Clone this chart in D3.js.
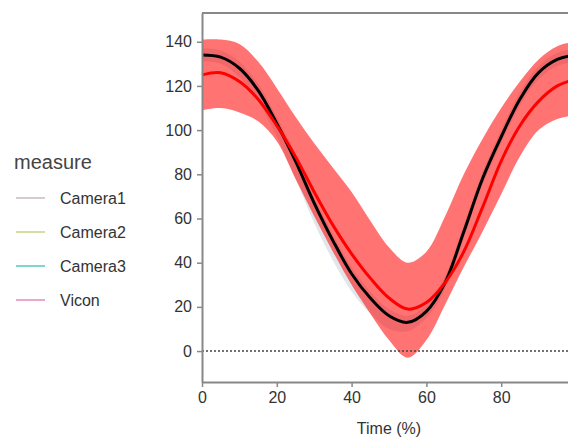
<!DOCTYPE html>
<html>
<head>
<meta charset="utf-8">
<script src="https://cdn.jsdelivr.net/npm/d3@7"></script>
<style>
  body { margin: 0; background: #fff; }
  text { font-family: "Liberation Sans", Arial, sans-serif; }
</style>
</head>
<body>
<div id="chart"></div>
<script>
// Time points (%)
const time = [0, 5, 10, 15, 20, 25, 30, 35, 40, 45, 50, 55, 60, 65, 70, 75, 80, 85, 90, 95, 100];

// black mean curve
const blackMean = [134, 133, 128, 118, 103, 86, 67, 50, 35, 24, 16, 13, 18, 31, 54, 78, 97, 114, 126, 132, 134];
// light grey spread around the black curve
const blackUpper = [137, 136, 131, 121, 106, 89, 70, 53, 38, 27, 19, 16, 21, 34, 57, 81, 100, 117, 129, 135, 137];
const blackLower = [131, 130, 124, 113, 97, 78, 58, 41, 27, 17, 10, 9, 15, 28, 51, 75, 94, 111, 123, 129, 131];

// red mean curve and its band
const redMean = [125, 126, 122, 114, 102, 88, 72, 57, 44, 33, 24, 19, 22, 31, 45, 65, 86, 102, 113, 120, 123];
const redUpper = [141, 141, 139, 131, 119, 106, 94, 83, 72, 59, 47, 40, 45, 61, 80, 96, 110, 122, 132, 138, 140];
const redLower = [109, 110, 108, 104, 95, 78, 61, 45, 30, 17, 5, -3, 5, 21, 38, 54, 71, 88, 100, 105, 107];

const legendNames = ["Camera1", "Camera2", "Camera3", "Vicon"];
const legendColors = ["#d9c9d3", "#d7dd9c", "#7fd6cf", "#eaa7cd"];

const xTicks = [0, 20, 40, 60, 80];
const yTicks = [0, 20, 40, 60, 80, 100, 120, 140];

const W = 568, H = 438;
const svg = d3.select("#chart").append("svg")
  .attr("width", W)
  .attr("height", H);

// plot area
const plotLeft = 202, plotTop = 13, plotBottom = 382;
const x = d3.scaleLinear().domain([0, 100]).range([plotLeft, 576]);
const y = d3.scaleLinear().domain([-14, 153]).range([plotBottom, plotTop]);

const rows = time.map((t, i) => ({
  t,
  bm: blackMean[i], bu: blackUpper[i], bl: blackLower[i],
  rm: redMean[i], ru: redUpper[i], rl: redLower[i]
}));

const curve = d3.curveCatmullRom;

// grey band
svg.append("path")
  .datum(rows)
  .attr("fill", "#c9d2d8")
  .attr("opacity", 0.55)
  .attr("d", d3.area().curve(curve).x(d => x(d.t)).y0(d => y(d.bl)).y1(d => y(d.bu)));

// red band
svg.append("path")
  .datum(rows)
  .attr("fill", "#ff0000")
  .attr("opacity", 0.55)
  .attr("d", d3.area().curve(curve).x(d => x(d.t)).y0(d => y(d.rl)).y1(d => y(d.ru)));

// zero line
svg.append("line")
  .attr("x1", plotLeft).attr("x2", W)
  .attr("y1", y(0)).attr("y2", y(0))
  .attr("stroke", "#444")
  .attr("stroke-width", 1.5)
  .attr("stroke-dasharray", "2,2");

// mean lines
svg.append("path")
  .datum(rows)
  .attr("fill", "none")
  .attr("stroke", "#000")
  .attr("stroke-width", 3)
  .attr("d", d3.line().curve(curve).x(d => x(d.t)).y(d => y(d.bm)));

svg.append("path")
  .datum(rows)
  .attr("fill", "none")
  .attr("stroke", "#f00")
  .attr("stroke-width", 3)
  .attr("d", d3.line().curve(curve).x(d => x(d.t)).y(d => y(d.rm)));

// top spine
svg.append("line")
  .attr("x1", plotLeft).attr("x2", W)
  .attr("y1", plotTop).attr("y2", plotTop)
  .attr("stroke", "#888").attr("stroke-width", 2);

// axes
const xAxis = svg.append("g")
  .attr("transform", `translate(0,${plotBottom})`)
  .call(d3.axisBottom(x).tickValues(xTicks).tickSize(5).tickPadding(5).tickSizeOuter(0));
const yAxis = svg.append("g")
  .attr("transform", `translate(${plotLeft},0)`)
  .call(d3.axisLeft(y).tickValues(yTicks).tickSize(5).tickPadding(5).tickSizeOuter(0));

[xAxis, yAxis].forEach(g => {
  g.select(".domain").attr("stroke", "#888").attr("stroke-width", 2);
  g.selectAll(".tick line").attr("stroke", "#888").attr("stroke-width", 1.5);
  g.selectAll(".tick text")
    .attr("fill", "#333")
    .style("font-size", "16px");
});

// x label
svg.append("text")
  .attr("x", x(50))
  .attr("y", 434)
  .attr("text-anchor", "middle")
  .attr("fill", "#333")
  .style("font-size", "16px")
  .text("Time (%)");

// legend
svg.append("text")
  .attr("x", 14)
  .attr("y", 169)
  .attr("fill", "#444")
  .style("font-size", "20px")
  .text("measure");

const legend = svg.append("g");
legendNames.forEach((name, i) => {
  const ly = 198 + i * 34;
  legend.append("line")
    .attr("x1", 16).attr("x2", 45)
    .attr("y1", ly).attr("y2", ly)
    .attr("stroke", legendColors[i])
    .attr("stroke-width", 2);
  legend.append("text")
    .attr("x", 60)
    .attr("y", ly)
    .attr("dy", "0.35em")
    .attr("fill", "#333")
    .style("font-size", "16px")
    .text(name);
});
</script>
</body>
</html>
